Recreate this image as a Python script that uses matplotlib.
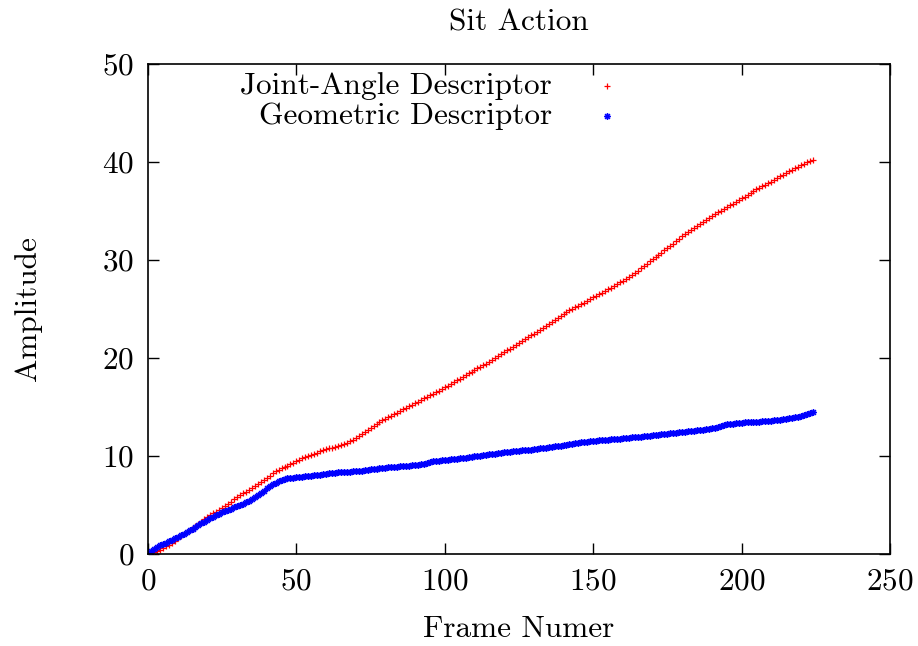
import numpy as np
import matplotlib
matplotlib.use('Agg')
from matplotlib import pyplot as plt
from matplotlib.path import Path

plt.rcParams['font.family'] = 'cmr10'
plt.rcParams['mathtext.fontset'] = 'cm'
plt.rcParams['axes.unicode_minus'] = False
plt.rcParams['axes.formatter.use_mathtext'] = True

# Joint-Angle Descriptor, one value per frame (0..224)
joint_angle = [
    0.00, 0.08, 0.18, 0.30, 0.45, 0.60, 0.78, 0.95, 1.15, 1.35,
    1.60, 1.80, 2.00, 2.20, 2.40, 2.60, 2.85, 3.10, 3.30, 3.55,
    3.80, 3.98, 4.15, 4.33, 4.50, 4.70, 4.90, 5.10, 5.35, 5.60,
    5.85, 6.00, 6.18, 6.35, 6.52, 6.70, 6.90, 7.10, 7.32, 7.55,
    7.78, 8.00, 8.22, 8.42, 8.60, 8.76, 8.90, 9.03, 9.15, 9.30,
    9.45, 9.60, 9.75, 9.88, 10.00, 10.10, 10.20, 10.35, 10.48, 10.60,
    10.70, 10.78, 10.85, 10.92, 11.00, 11.10, 11.20, 11.32, 11.50, 11.68,
    11.88, 12.08, 12.28, 12.50, 12.70, 12.90, 13.10, 13.30, 13.50, 13.65,
    13.80, 13.95, 14.12, 14.28, 14.44, 14.60, 14.76, 14.92, 15.08, 15.24,
    15.40, 15.56, 15.72, 15.88, 16.04, 16.20, 16.37, 16.53, 16.68, 16.84,
    17.00, 17.18, 17.36, 17.54, 17.72, 17.90, 18.08, 18.26, 18.44, 18.62,
    18.80, 18.96, 19.12, 19.28, 19.44, 19.60, 19.80, 20.00, 20.20, 20.40,
    20.60, 20.78, 20.96, 21.14, 21.32, 21.50, 21.70, 21.90, 22.10, 22.30,
    22.50, 22.70, 22.90, 23.10, 23.30, 23.50, 23.70, 23.90, 24.10, 24.30,
    24.50, 24.68, 24.86, 25.02, 25.18, 25.34, 25.50, 25.66, 25.82, 25.98,
    26.20, 26.36, 26.52, 26.68, 26.84, 27.00, 27.18, 27.36, 27.54, 27.72,
    27.90, 28.10, 28.30, 28.50, 28.70, 28.90, 29.14, 29.38, 29.62, 29.86,
    30.10, 30.32, 30.54, 30.76, 30.98, 31.20, 31.44, 31.68, 31.92, 32.16,
    32.40, 32.62, 32.84, 33.06, 33.28, 33.50, 33.70, 33.90, 34.10, 34.30,
    34.50, 34.68, 34.86, 35.04, 35.22, 35.40, 35.58, 35.76, 35.94, 36.12,
    36.30, 36.48, 36.66, 36.84, 37.02, 37.20, 37.36, 37.52, 37.68, 37.84,
    38.00, 38.18, 38.36, 38.54, 38.72, 38.90, 39.06, 39.22, 39.38, 39.54,
    39.70, 39.84, 39.98, 40.10, 40.22,
]

# Geometric Descriptor, one value per frame (0..224)
geometric = [
    0.10, 0.35, 0.55, 0.75, 0.88, 1.00, 1.15, 1.30, 1.45, 1.60,
    1.75, 1.90, 2.05, 2.22, 2.40, 2.58, 2.76, 2.94, 3.12, 3.30,
    3.48, 3.64, 3.80, 3.96, 4.12, 4.28, 4.40, 4.52, 4.64, 4.76,
    4.90, 5.00, 5.12, 5.26, 5.42, 5.60, 5.80, 6.02, 6.25, 6.48,
    6.70, 6.90, 7.10, 7.28, 7.42, 7.55, 7.65, 7.72, 7.76, 7.79,
    7.82, 7.85, 7.88, 7.91, 7.95, 7.99, 8.03, 8.07, 8.11, 8.15,
    8.20, 8.23, 8.26, 8.29, 8.32, 8.35, 8.37, 8.39, 8.41, 8.43,
    8.45, 8.48, 8.52, 8.56, 8.60, 8.64, 8.68, 8.72, 8.76, 8.80,
    8.82, 8.84, 8.86, 8.88, 8.90, 8.93, 8.96, 8.99, 9.02, 9.05,
    9.08, 9.11, 9.16, 9.23, 9.32, 9.40, 9.46, 9.50, 9.53, 9.56,
    9.60, 9.63, 9.66, 9.69, 9.72, 9.76, 9.80, 9.84, 9.88, 9.92,
    9.96, 10.00, 10.04, 10.08, 10.12, 10.16, 10.20, 10.24, 10.28, 10.33,
    10.38, 10.42, 10.45, 10.48, 10.51, 10.54, 10.57, 10.60, 10.63, 10.66,
    10.70, 10.74, 10.78, 10.82, 10.86, 10.90, 10.94, 10.98, 11.02, 11.06,
    11.10, 11.15, 11.20, 11.25, 11.30, 11.35, 11.40, 11.44, 11.48, 11.52,
    11.55, 11.58, 11.60, 11.62, 11.64, 11.66, 11.69, 11.72, 11.75, 11.78,
    11.80, 11.83, 11.86, 11.89, 11.92, 11.95, 11.98, 12.01, 12.04, 12.07,
    12.10, 12.14, 12.18, 12.21, 12.24, 12.27, 12.30, 12.34, 12.38, 12.42,
    12.46, 12.50, 12.53, 12.56, 12.59, 12.62, 12.65, 12.68, 12.72, 12.76,
    12.82, 12.90, 13.00, 13.10, 13.18, 13.24, 13.28, 13.31, 13.34, 13.37,
    13.40, 13.42, 13.44, 13.46, 13.48, 13.50, 13.52, 13.54, 13.56, 13.58,
    13.61, 13.64, 13.67, 13.71, 13.75, 13.80, 13.85, 13.90, 13.96, 14.02,
    14.10, 14.18, 14.27, 14.37, 14.47,
]

frames = np.arange(len(joint_angle))
labels = ['Joint-Angle Descriptor', 'Geometric Descriptor']
x_ticks = [0, 50, 100, 150, 200, 250]
y_ticks = [0, 10, 20, 30, 40, 50]

# gnuplot style asterisk: plus and cross together
star = Path([(-1, 0), (1, 0), (0, -1), (0, 1),
             (-0.7, -0.7), (0.7, 0.7), (-0.7, 0.7), (0.7, -0.7)],
            [Path.MOVETO, Path.LINETO] * 4)

fs = 22.5

fig = plt.figure(figsize=(9.18, 6.46), dpi=100)
ax = fig.add_axes([0.1612, 0.1424, 0.8083, 0.7585])

ax.plot(frames, joint_angle, linestyle='none', marker='+', color='red',
        markersize=4.5, markeredgewidth=0.9)
ax.plot(frames, geometric, linestyle='none', marker=star, color='blue',
        markersize=5, markeredgewidth=1.1)

# legend gnuplot style: text right aligned, marker on the right
ax.text(0.5445, 0.955, labels[0], transform=ax.transAxes, ha='right', va='center', fontsize=fs)
ax.text(0.5445, 0.894, labels[1], transform=ax.transAxes, ha='right', va='center', fontsize=fs)
ax.plot([0.6186], [0.955], transform=ax.transAxes, marker='+', color='red',
        markersize=4.5, markeredgewidth=0.9, clip_on=False)
ax.plot([0.6186], [0.894], transform=ax.transAxes, marker=star, color='blue',
        markersize=5, markeredgewidth=1.1, clip_on=False)

ax.set_xlim(0, 250)
ax.set_ylim(0, 50)
ax.set_xticks(x_ticks)
ax.set_yticks(y_ticks)
ax.tick_params(direction='in', top=True, right=True, length=8, width=1,
               labelsize=fs, pad=10)
for s in ax.spines.values():
    s.set_linewidth(1.2)

ax.set_xlabel('Frame Numer', fontsize=fs, labelpad=14)
ax.set_ylabel('Amplitude', fontsize=fs, labelpad=43)
fig.text(0.5654, 0.965, 'Sit Action', ha='center', va='center', fontsize=fs)

fig.savefig('out.png', dpi=100)
